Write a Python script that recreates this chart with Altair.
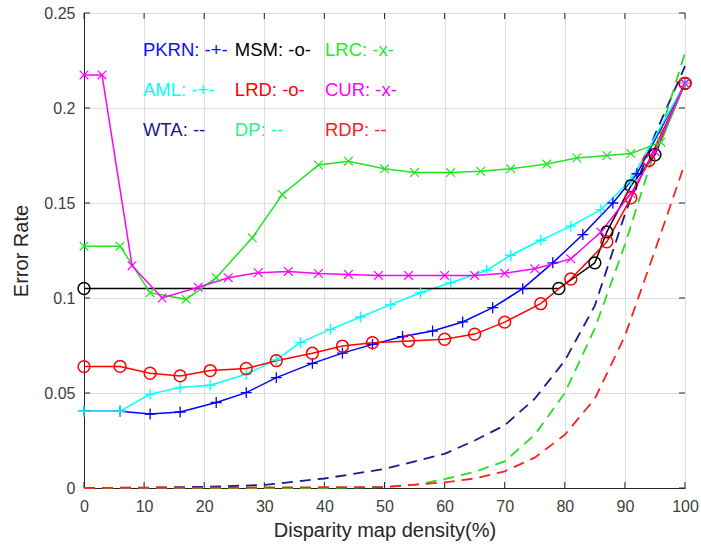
import altair as alt
import pandas as pd

# ---------------- data ----------------
PKRN_x = [0, 6, 11, 16, 22, 27, 32, 38, 43, 48, 53, 58, 63, 68, 73, 78, 83, 88, 92, 100]
PKRN_y = [0.0404, 0.0404, 0.0389, 0.0400, 0.0450, 0.0502, 0.0581, 0.0656, 0.0710, 0.0756,
          0.0797, 0.0826, 0.0874, 0.0949, 0.1049, 0.1185, 0.1334, 0.1500, 0.1654, 0.2130]

AML_x = [0, 6, 11, 16, 21, 27, 32, 36, 41, 46, 51, 56, 61, 67, 71, 76, 81, 86, 91, 100]
AML_y = [0.0404, 0.0404, 0.0494, 0.0529, 0.0541, 0.0599, 0.0674, 0.0765, 0.0835, 0.0900,
         0.0965, 0.1028, 0.1080, 0.1145, 0.1225, 0.1304, 0.1378, 0.1465, 0.1620, 0.2130]

MSM_x = [0, 79, 85, 87, 91, 95, 100]
MSM_y = [0.105, 0.105, 0.1185, 0.1348, 0.159, 0.1754, 0.213]

LRD_x = [0, 6, 11, 16, 21, 27, 32, 38, 43, 48, 54, 60, 65, 70, 76, 81, 87, 91, 94, 100]
LRD_y = [0.0639, 0.0640, 0.0604, 0.0590, 0.0618, 0.0629, 0.0670, 0.0709, 0.0747, 0.0765,
         0.0774, 0.0783, 0.0810, 0.0873, 0.0970, 0.1100, 0.1296, 0.1527, 0.1724, 0.2130]

LRC_x = [0, 6, 11, 17, 22, 28, 33, 39, 44, 50, 55, 61, 66, 71, 77, 82, 87, 91, 96, 100]
LRC_y = [0.1273, 0.1273, 0.1028, 0.0993, 0.1107, 0.1317, 0.1545, 0.1700, 0.1720, 0.1680,
         0.1660, 0.1660, 0.1667, 0.1680, 0.1705, 0.1737, 0.1750, 0.1760, 0.1820, 0.2130]

CUR_x = [0, 3, 8, 13, 19, 24, 29, 34, 39, 44, 49, 54, 60, 65, 70, 75, 81, 86, 91, 95, 100]
CUR_y = [0.2174, 0.2174, 0.1170, 0.1000, 0.1057, 0.1107, 0.1133, 0.1140, 0.1129, 0.1124,
         0.1119, 0.1119, 0.1119, 0.1119, 0.1130, 0.1154, 0.1206, 0.1347, 0.1550, 0.1770, 0.2130]

WTA_x = [0, 10, 20, 30, 40, 50, 60, 65, 70, 75, 80, 85, 90, 95, 100]
WTA_y = [0.0, 0.0002, 0.0006, 0.0016, 0.005, 0.010, 0.018, 0.025, 0.033, 0.047,
         0.067, 0.096, 0.144, 0.186, 0.222]

DP_x = [0, 40, 50, 55, 60, 65, 70, 75, 80, 85, 90, 95, 100]
DP_y = [0.0, 0.0, 0.0005, 0.0016, 0.0047, 0.0085, 0.014, 0.028, 0.050, 0.084, 0.128, 0.178, 0.229]

RDP_x = [0, 50, 60, 65, 70, 75, 80, 85, 90, 95, 100]
RDP_y = [0.0, 0.0005, 0.003, 0.005, 0.0088, 0.016, 0.028, 0.047, 0.080, 0.125, 0.171]

x_ticks = [0, 10, 20, 30, 40, 50, 60, 70, 80, 90, 100]
y_ticks = [0, 0.05, 0.1, 0.15, 0.2, 0.25]

legend_labels = ["PKRN: -+-", "MSM: -o-", "LRC: -x-",
                 "AML: -+-", "LRD: -o-", "CUR: -x-",
                 "WTA: --", "DP: --", "RDP: --"]

# ---------------- styles ----------------
W, H = 601, 475
line_color = {
    "PKRN": "#0000ff", "AML": "#00ffff", "MSM": "#000000",
    "LRD": "#ff0000", "LRC": "#1ee61e", "CUR": "#ff00ff",
    "WTA": "#1a1a8c", "DP": "#22e022", "RDP": "#ff2020",
}
text_color = ["#1010ff", "#000000", "#22ee22",
              "#00ffff", "#ff0000", "#ff00ff",
              "#1a1a8c", "#2ef08a", "#ff2020"]
legend_x = [9.8, 25.1, 40.1] * 3
legend_y = [0.2305] * 3 + [0.2095] * 3 + [0.1884] * 3

series = [
    ("PKRN", PKRN_x, PKRN_y, "solid", "plus"),
    ("AML", AML_x, AML_y, "solid", "plus"),
    ("WTA", WTA_x, WTA_y, "dash", None),
    ("MSM", MSM_x, MSM_y, "solid", "circle"),
    ("LRD", LRD_x, LRD_y, "solid", "circle"),
    ("DP", DP_x, DP_y, "dash", None),
    ("LRC", LRC_x, LRC_y, "solid", "cross"),
    ("CUR", CUR_x, CUR_y, "solid", "cross"),
    ("RDP", RDP_x, RDP_y, "dash", None),
]
rows = []
for order, (name, xs, ys, style, marker) in enumerate(series):
    for xv, yv in zip(xs, ys):
        rows.append({"method": name, "x": xv, "y": yv, "style": style,
                     "marker": marker or "", "color": line_color[name], "order": order})
df = pd.DataFrame(rows)

leg_df = pd.DataFrame({"label": legend_labels, "color": text_color,
                       "x": legend_x, "y": legend_y})
xt_df = pd.DataFrame({"v": x_ticks})
yt_df = pd.DataFrame({"v": y_ticks})

xscale = alt.Scale(domain=[0, 100], nice=False, zero=False)
yscale = alt.Scale(domain=[0, 0.25], nice=False, zero=False)

AX = "#262626"
FONT = "Liberation Sans"

# main axes with labels and grid
axes_main = alt.Chart(df).mark_point(opacity=0).encode(
    x=alt.X("x:Q", scale=xscale, axis=alt.Axis(
        values=x_ticks, title="Disparity map density(%)", grid=True, tickSize=0,
        labelFontSize=16, labelColor="#404040", labelFont=FONT, labelPadding=10,
        titleFontSize=20, titleColor=AX, titleFont=FONT, titleFontWeight="normal",
        titlePadding=6, domainColor=AX, gridColor="#dedede", labelFlush=False)),
    y=alt.Y("y:Q", scale=yscale, axis=alt.Axis(
        values=y_ticks, format="~g", title="Error Rate", grid=True, tickSize=0,
        labelFontSize=16, labelColor="#404040", labelFont=FONT, labelPadding=9,
        titleFontSize=20, titleColor=AX, titleFont=FONT, titleFontWeight="normal",
        titlePadding=12, domainColor=AX, gridColor="#dedede", labelFlush=False)),
)

enc_x = alt.X("x:Q", scale=xscale, axis=None)
enc_y = alt.Y("y:Q", scale=yscale, axis=None)

# inward tick marks (MATLAB style) on all four sides
tick_bottom = alt.Chart(xt_df).mark_rule(color=AX, strokeWidth=1).encode(
    x=alt.X("v:Q", scale=xscale, axis=None), y=alt.value(H), y2=alt.value(H - 6))
tick_top = alt.Chart(xt_df).mark_rule(color=AX, strokeWidth=1).encode(
    x=alt.X("v:Q", scale=xscale, axis=None), y=alt.value(0), y2=alt.value(6))
tick_left = alt.Chart(yt_df).mark_rule(color=AX, strokeWidth=1).encode(
    y=alt.Y("v:Q", scale=yscale, axis=None), x=alt.value(0), x2=alt.value(6))
tick_right = alt.Chart(yt_df).mark_rule(color=AX, strokeWidth=1).encode(
    y=alt.Y("v:Q", scale=yscale, axis=None), x=alt.value(W), x2=alt.value(W - 6))

solid = alt.Chart(df).transform_filter("datum.style == 'solid'").mark_line(
    strokeWidth=1.5).encode(
    x=enc_x, y=enc_y, color=alt.Color("color:N", scale=None),
    detail="method:N", order=alt.Order("x:Q"))

dashed = alt.Chart(df).transform_filter("datum.style == 'dash'").mark_line(
    strokeWidth=1.8, strokeDash=[11, 7]).encode(
    x=enc_x, y=enc_y, color=alt.Color("color:N", scale=None),
    detail="method:N", order=alt.Order("x:Q"))

plus_marks = alt.Chart(df).transform_filter("datum.marker == 'plus'").mark_point(
    shape="M-1,0L1,0M0,-1L0,1", size=120, strokeWidth=1.3, filled=False, opacity=1).encode(
    x=enc_x, y=enc_y, stroke=alt.Color("color:N", scale=None))

circle_marks = alt.Chart(df).transform_filter("datum.marker == 'circle'").mark_point(
    shape="circle", size=140, strokeWidth=1.5, filled=False, opacity=1).encode(
    x=enc_x, y=enc_y, stroke=alt.Color("color:N", scale=None))

cross_marks = alt.Chart(df).transform_filter("datum.marker == 'cross'").mark_point(
    shape="M-1,-1L1,1M-1,1L1,-1", size=75, strokeWidth=1.2, filled=False, opacity=1).encode(
    x=enc_x, y=enc_y, stroke=alt.Color("color:N", scale=None))

legend_text = alt.Chart(leg_df).mark_text(
    align="left", baseline="middle", fontSize=18.5, font=FONT).encode(
    x=enc_x, y=enc_y, text="label:N", color=alt.Color("color:N", scale=None))

chart = alt.layer(
    axes_main, tick_bottom, tick_top, tick_left, tick_right,
    dashed, solid, plus_marks, circle_marks, cross_marks, legend_text
).resolve_axis(x="independent", y="independent").properties(
    width=W, height=H,
    autosize=alt.AutoSizeParams(type="none"),
    padding={"left": 84, "top": 13, "right": 16, "bottom": 64},
    background="white",
).configure_view(stroke=AX, strokeWidth=1)

chart.save("out.html", embed_options={"renderer": "svg", "actions": False})
